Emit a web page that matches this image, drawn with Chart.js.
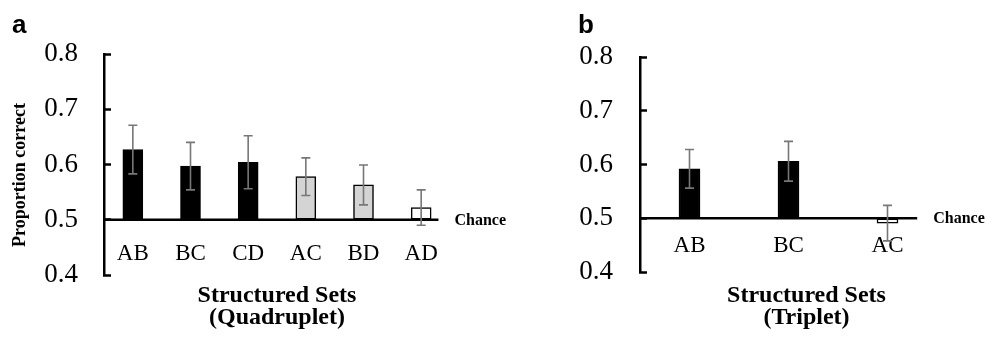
<!DOCTYPE html>
<html>
<head>
<meta charset="utf-8">
<script src="https://cdn.jsdelivr.net/npm/chart.js@4.4.1/dist/chart.umd.min.js"></script>
<style>
  html, body { margin: 0; padding: 0; background: #fff; }
  #wrap { position: relative; width: 987px; height: 341px; overflow: hidden; }
  #chartA { position: absolute; left: 0; top: 0; }
  #chartB { position: absolute; left: 560px; top: 0; }
</style>
</head>
<body>
<div id="wrap">
  <canvas id="chartA" width="560" height="341"></canvas>
  <canvas id="chartB" width="427" height="341"></canvas>
</div>
<script>
const chanceLevel = 0.5;

// panel a - quadruplet
const quadLabels = ['AB', 'BC', 'CD', 'AC', 'BD', 'AD'];
const quadMeans = [0.627, 0.597, 0.604, 0.578, 0.563, 0.522];
const quadErr = [0.044, 0.043, 0.048, 0.034, 0.036, 0.032];
const quadColors = ['#000000', '#000000', '#000000', '#d4d4d4', '#d4d4d4', '#ffffff'];

// panel b - triplet
const tripLabels = ['AB', 'BC', 'AC'];
const tripMeans = [0.592, 0.606, 0.491];
const tripErr = [0.036, 0.037, 0.033];
const tripColors = ['#000000', '#000000', '#ffffff'];

const serif = '"Liberation Serif", "Times New Roman", serif';

// chance line, error bars and extra text
const panelPlugin = {
  id: 'panelText',
  afterDatasetsDraw(chart, args, opts) {
    const ctx = chart.ctx;
    const x = chart.scales.x, y = chart.scales.y;
    const area = chart.chartArea;
    const n = chart.data.labels.length;
    const catW = (area.right - area.left) / n;
    const yc = y.getPixelForValue(chanceLevel);
    const lineEnd = x.getPixelForValue(n - 1) + catW * 0.3;

    ctx.save();
    ctx.strokeStyle = '#000';
    ctx.lineWidth = 2.5;
    ctx.beginPath();
    ctx.moveTo(area.left, yc);
    ctx.lineTo(lineEnd, yc);
    ctx.stroke();

    // error bars
    const meta = chart.getDatasetMeta(0);
    ctx.strokeStyle = '#777';
    ctx.lineWidth = 1.6;
    opts.errors.forEach((e, i) => {
      const v = chart.data.datasets[0].data[i];
      const bx = meta.data[i].x;
      const t = y.getPixelForValue(v + e);
      const b = y.getPixelForValue(v - e);
      ctx.beginPath();
      ctx.moveTo(bx, t); ctx.lineTo(bx, b);
      ctx.moveTo(bx - 4.5, t); ctx.lineTo(bx + 4.5, t);
      ctx.moveTo(bx - 4.5, b); ctx.lineTo(bx + 4.5, b);
      ctx.stroke();
    });

    ctx.fillStyle = '#000';
    ctx.textBaseline = 'middle';
    ctx.textAlign = 'left';
    ctx.font = 'bold 16px ' + serif;
    ctx.fillText('Chance', lineEnd + 16, yc + 1);

    // panel letter
    ctx.font = 'bold 26px "Liberation Sans", Arial, sans-serif';
    ctx.textBaseline = 'alphabetic';
    ctx.fillText(opts.letter, opts.letterX, 33);

    // x title
    ctx.textAlign = 'center';
    ctx.textBaseline = 'middle';
    ctx.font = 'bold 24px ' + serif;
    const cx = (area.left + area.right) / 2 + opts.titleShift;
    ctx.fillText('Structured Sets', cx, 296);
    ctx.fillText(opts.subtitle, cx, 318);

    // y title
    if (opts.yTitle) {
      ctx.translate(20, 175);
      ctx.rotate(-Math.PI / 2);
      ctx.font = 'bold 18px ' + serif;
      ctx.fillText(opts.yTitle, 0, 0);
    }
    ctx.restore();
  }
};

function makePanel(canvasId, labels, means, colors, p) {
  return new Chart(document.getElementById(canvasId), {
    type: 'bar',
    data: {
      labels: labels,
      datasets: [{
        data: means,
        base: chanceLevel,
        backgroundColor: colors,
        borderColor: '#000',
        borderWidth: 1.5,
        borderSkipped: false,
        barThickness: p.barW
      }]
    },
    options: {
      responsive: false,
      animation: false,
      devicePixelRatio: 1,
      layout: { padding: { left: 0, top: p.top, right: p.right, bottom: 0 } },
      scales: {
        x: {
          grid: { display: false },
          border: { display: false },
          ticks: {
            color: '#000',
            mirror: true,
            padding: p.xPad,
            maxRotation: 0,
            autoSkip: false,
            font: { family: serif, size: 23 }
          },
          afterFit: s => { s.height = p.xH; }
        },
        y: {
          min: 0.4,
          max: 0.8,
          grid: { drawOnChartArea: false, tickLength: -7, tickWidth: 2.5, color: '#000' },
          border: { display: true, color: '#000', width: 2.5 },
          ticks: {
            stepSize: 0.1,
            color: '#000',
            padding: p.tickPad,
            font: { family: serif, size: 27 },
            callback: v => Number(v).toFixed(1)
          },
          afterFit: s => { s.width = p.yW; }
        }
      },
      plugins: {
        legend: { display: false },
        tooltip: { enabled: false },
        panelText: {
          errors: p.errors,
          letter: p.letter,
          letterX: p.letterX,
          subtitle: p.subtitle,
          titleShift: p.titleShift,
          yTitle: p.yTitle
        }
      }
    },
    plugins: [panelPlugin]
  });
}

makePanel('chartA', quadLabels, quadMeans, quadColors, {
  barW: 20, top: 54, right: 110, xH: 66, yW: 104, tickPad: 33, xPad: 7,
  errors: quadErr, letter: 'a', letterX: 12,
  subtitle: '(Quadruplet)', titleShift: 0, yTitle: 'Proportion correct'
});

makePanel('chartB', tripLabels, tripMeans, tripColors, {
  barW: 21, top: 57, right: 50, xH: 69, yW: 80, tickPad: 34, xPad: 12,
  errors: tripErr, letter: 'b', letterX: 18,
  subtitle: '(Triplet)', titleShift: 18, yTitle: null
});
</script>
</body>
</html>
